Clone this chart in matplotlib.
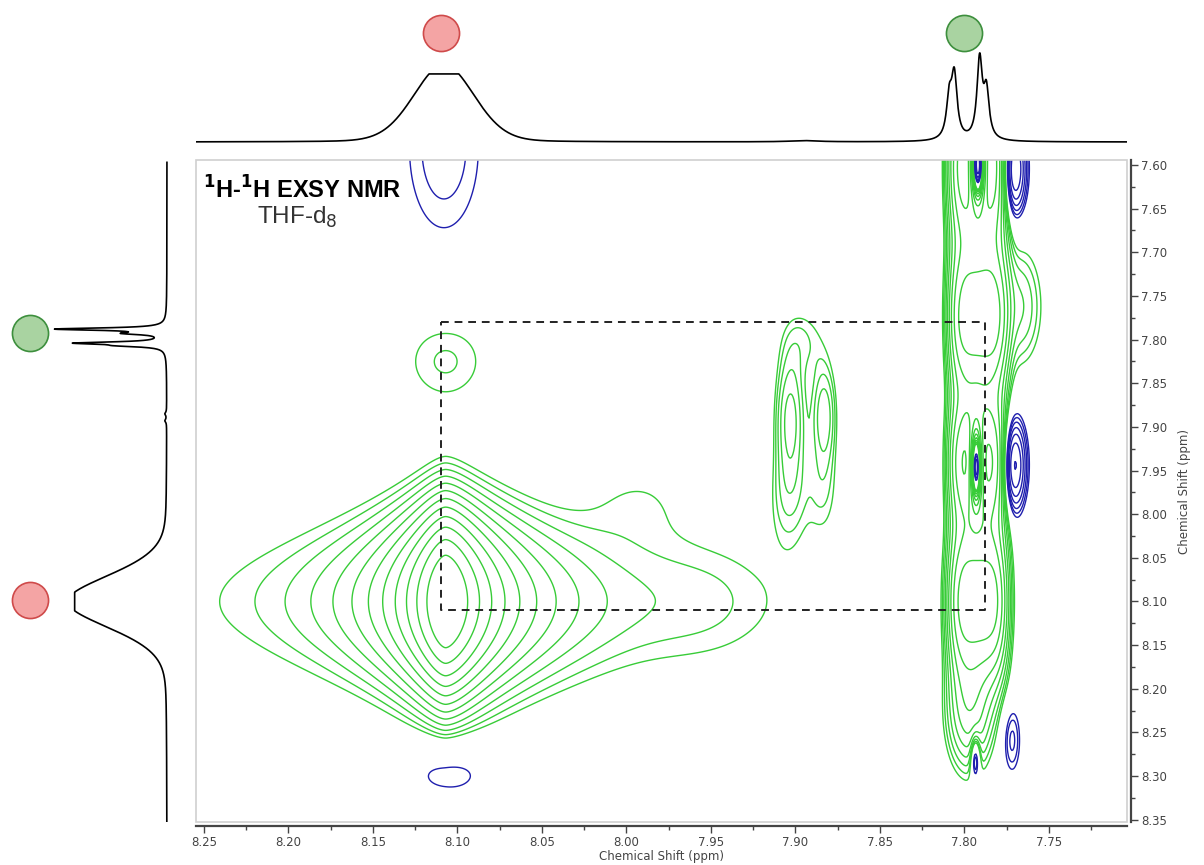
"""1H-1H EXSY NMR contour plot with 1D projections (THF-d8)."""
import numpy as np
import matplotlib
matplotlib.use("Agg")
import matplotlib.pyplot as plt
from matplotlib.patches import Rectangle
from matplotlib.ticker import MultipleLocator, FormatStrFormatter

W, H = 1204, 865

# ---- 2D spectrum: peaks (ppm) ----
# main diagonal peak (red site): sharp in F2, gaussian in F1
main_x, main_y, main_amp = 8.107, 8.100, 0.753
main_gx = (0.0184, 0.0217)      # left / right half widths (F2)
main_wy = 0.0894                # F1 width

# positive (green) peaks: x, y, amplitude, sx, sy, F2 shape exponent (2 = gaussian)
green_x   = [8.107, 7.903, 7.883, 7.904, 7.884, 7.895, 7.992, 7.950,
             7.792, 7.792, 7.792, 7.792, 7.797, 7.768]
green_y   = [7.823, 7.890, 7.885, 7.980, 7.970, 7.800, 7.980, 8.100,
             7.600, 7.775, 7.940, 8.100, 8.230, 7.762]
green_amp = [0.036, 0.085, 0.070, 0.035, 0.030, 0.030, 0.019, 0.012,
             0.30, 0.28, 0.24, 0.28, 0.10, 0.06]
green_sx  = [0.022, 0.006, 0.005, 0.008, 0.007, 0.010, 0.024, 0.030,
             0.0141, 0.0141, 0.0141, 0.0141, 0.009, 0.010]
green_sy  = [0.043, 0.050, 0.040, 0.040, 0.040, 0.030, 0.035, 0.060,
             0.06, 0.06, 0.05, 0.06, 0.045, 0.05]
green_px  = [2, 2, 2, 2, 2, 2, 2, 2,
             4, 4, 4, 4, 2, 2]

# negative (blue) peaks
blue_x   = [8.108, 8.105, 7.792, 7.771, 7.793, 7.771, 7.7935, 7.772]
blue_y   = [7.580, 8.296, 7.600, 7.605, 7.945, 7.944, 8.280, 8.258]
blue_amp = [-0.04, -0.034, -0.40, -0.15, -0.31, -0.15, -0.09, -0.05]
blue_sx  = [0.021, 0.0217, 0.003, 0.005, 0.0025, 0.005, 0.0018, 0.004]
blue_sy  = [0.095, 0.0255, 0.030, 0.035, 0.030, 0.035, 0.018, 0.030]

# exchange box corners
box_x = [8.11, 7.788]
box_y = [7.78, 8.11]

# ---- 1D projections ----
# top (F2): broad red site + green doublet
top_red = dict(pos=8.108, g_amp=0.80, g_sig=0.018, l_amp=0.12, l_hw=0.020, clip=0.81)
top_pk_pos = [7.809, 7.806, 7.791, 7.787, 7.895]
top_pk_amp = [0.45, 0.74, 0.94, 0.55, 0.015]
top_pk_hw  = [0.0019, 0.0020, 0.0019, 0.0019, 0.010]
# left (F1)
left_red = dict(pos=8.100, g_amp=0.75, g_sig=0.030, l_amp=0.12, l_hw=0.030, clip=0.81)
left_pk_pos = [7.788, 7.793, 7.804, 7.807, 7.885, 7.893]
left_pk_amp = [0.95, 0.30, 0.75, 0.30, 0.015, 0.015]
left_pk_hw  = [0.0016, 0.0016, 0.0016, 0.0016, 0.002, 0.002]

# circle markers (site labels)
site_top_x = [8.110, 7.800]
site_left_y = [7.792, 8.098]
site_fill = ["#f4a4a4", "#a9d3a1"]
site_edge = ["#cf4a4a", "#3d8f3d"]
site_order_left = [1, 0]       # left column: green on top, red below

XLIM = (8.2547, 7.7038)
YLIM = (8.3526, 7.5943)


def gauss(u, u0, s, p=2):
    return np.exp(-0.5 * np.abs((u - u0) / s) ** p)


def lor(u, u0, hw):
    return 1.0 / (1.0 + ((u - u0) / hw) ** 2)


def red_line(u, p):
    v = p["g_amp"] * gauss(u, p["pos"], p["g_sig"]) + p["l_amp"] * lor(u, p["pos"], p["l_hw"])
    return np.minimum(v, p["clip"])


# ---- build 2D surface ----
xs = np.linspace(8.27, 7.69, 900)
ys = np.linspace(7.54, 8.38, 900)
X, Y = np.meshgrid(xs, ys)

dx = X - main_x
g = np.where(dx > 0, main_gx[0], main_gx[1])
Z = main_amp / (1 + np.abs(dx / g) ** 1.7) * np.exp(-((Y - main_y) / main_wy) ** 2)
for x0, y0, a, sx, sy, px in zip(green_x, green_y, green_amp, green_sx, green_sy, green_px):
    Z += a * gauss(X, x0, sx, px) * gauss(Y, y0, sy)
for x0, y0, a, sx, sy in zip(blue_x, blue_y, blue_amp, blue_sx, blue_sy):
    Z += a * gauss(X, x0, sx) * gauss(Y, y0, sy)

pos_levels = 0.025 * 1.32 ** np.arange(12)
neg_levels = -pos_levels[::-1]

# ---- figure ----
fig = plt.figure(figsize=(W / 100, H / 100), dpi=100)
ax = fig.add_axes([196 / W, (H - 822) / H, 931 / W, 662 / H])
ax_top = fig.add_axes([196 / W, (H - 150) / H, 931 / W, 140 / H])
ax_left = fig.add_axes([0, (H - 822) / H, 180 / W, 662 / H])

ax.contour(X, Y, Z, levels=pos_levels, colors="#38cc38", linewidths=1.0)
ax.contour(X, Y, Z, levels=neg_levels, colors="#1f1fae", linewidths=1.0,
           linestyles="solid")

# dashed exchange box
ax.plot([box_x[0], box_x[1], box_x[1], box_x[0], box_x[0]],
        [box_y[0], box_y[0], box_y[1], box_y[1], box_y[0]],
        color="#222222", lw=1.4, ls=(0, (4, 3)), zorder=5)

ax.set_xlim(*XLIM)
ax.set_ylim(*YLIM)
ax.add_patch(Rectangle((0, 0), 1, 1, transform=ax.transAxes, fill=False,
                       ec="#cfcfcf", lw=1.2, zorder=6, clip_on=False))
for s in ("left", "top"):
    ax.spines[s].set_visible(False)
for s in ("bottom", "right"):
    ax.spines[s].set_color("#444444")
    ax.spines[s].set_linewidth(1.6)
    ax.spines[s].set_position(("outward", 3))
ax.yaxis.tick_right()
ax.yaxis.set_label_position("right")
ax.xaxis.set_major_locator(MultipleLocator(0.05))
ax.xaxis.set_minor_locator(MultipleLocator(0.025))
ax.yaxis.set_major_locator(MultipleLocator(0.05))
ax.yaxis.set_minor_locator(MultipleLocator(0.025))
ax.xaxis.set_major_formatter(FormatStrFormatter("%.2f"))
ax.yaxis.set_major_formatter(FormatStrFormatter("%.2f"))
ax.tick_params(which="major", direction="out", length=5, width=1, color="#444444",
               labelsize=8.5, labelcolor="#444444", pad=2)
ax.tick_params(which="minor", direction="out", length=3, width=1, color="#444444")
ax.set_xlabel("Chemical Shift (ppm)", fontsize=8.5, color="#444444", labelpad=1)
ax.set_ylabel("Chemical Shift (ppm)", fontsize=8.5, color="#444444", labelpad=8)

ax.text(0.008, 0.955, r"$\mathbf{^{1}}$H-$\mathbf{^{1}}$H EXSY NMR", transform=ax.transAxes,
        fontsize=17, fontweight="bold", family="Liberation Sans", va="center", ha="left")
ax.text(0.066, 0.913, r"THF-d$_8$", transform=ax.transAxes,
        fontsize=17.5, color="#333333", family="Liberation Sans", va="center", ha="left")

# ---- top projection ----
u = np.linspace(XLIM[0], XLIM[1], 3000)
top = red_line(u, top_red)
for p0, a, hw in zip(top_pk_pos, top_pk_amp, top_pk_hw):
    top += a * lor(u, p0, hw)
ax_top.plot(u, top, color="black", lw=1.2)
for xc, fc, ec in zip(site_top_x, site_fill, site_edge):
    ax_top.plot([xc], [1.30], "o", ms=26, mfc=fc, mec=ec, mew=1.2)
ax_top.set_xlim(*XLIM)
ax_top.set_ylim(-0.095, 1.571)
ax_top.axis("off")

# ---- left projection ----
v = np.linspace(7.597, 8.352, 3000)
left = red_line(v, left_red)
for p0, a, hw in zip(left_pk_pos, left_pk_amp, left_pk_hw):
    left += a * lor(v, p0, hw)
ax_left.plot(left, v, color="black", lw=1.2)
for yc, k in zip(site_left_y, site_order_left):
    ax_left.plot([1.20], [yc], "o", ms=26, mfc=site_fill[k], mec=site_edge[k], mew=1.2)
ax_left.set_xlim(1.465, -0.114)
ax_left.set_ylim(*YLIM)
ax_left.axis("off")

fig.savefig("out.png", dpi=100)
